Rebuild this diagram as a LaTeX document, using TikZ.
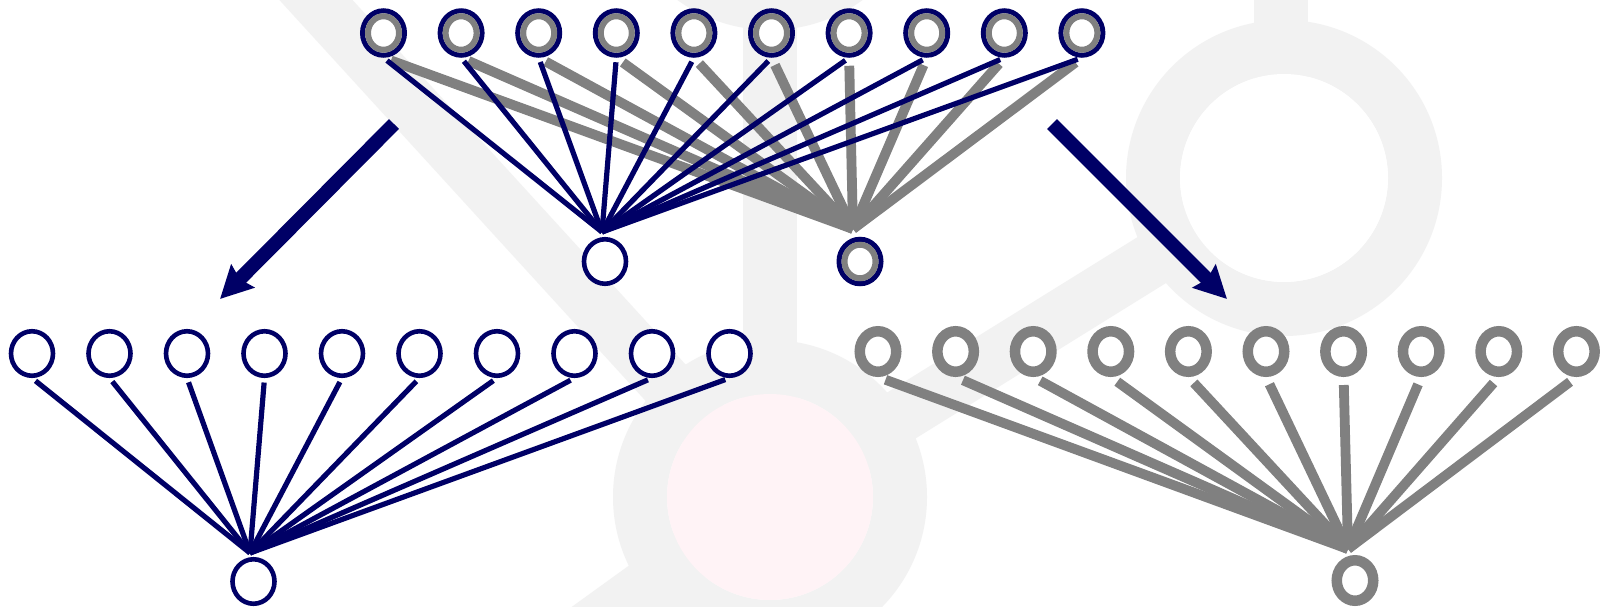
\documentclass[tikz,border=0pt]{standalone}
\usetikzlibrary{shapes.geometric,arrows.meta}
\definecolor{navyc}{RGB}{0,0,102}
\definecolor{grayc}{RGB}{128,128,128}
\definecolor{bgc}{RGB}{242,242,242}
\definecolor{pinkc}{RGB}{255,243,246}
\begin{document}
\begin{tikzpicture}[x=1pt,y=-1pt,
  bgline/.style={draw=bgc,line width=54pt},
  navynode/.style={ellipse,draw=navyc,fill=white,line width=4.6pt,minimum width=42pt,minimum height=44.5pt,inner sep=0pt},
  dualnode/.style={navynode,line width=5pt},
  graynode/.style={ellipse,draw=grayc,fill=white,line width=10.5pt,minimum width=36.5pt,minimum height=40.5pt,inner sep=0pt},
  innerring/.style={draw=grayc,line width=6pt},
  navyedge/.style={draw=navyc,line width=5.2pt,shorten <=4.5pt},
  grayedge/.style={draw=grayc,line width=9.8pt,shorten <=8pt},
  bigarrow/.style={draw=navyc,line width=14pt,-{Stealth[length=32pt,width=32pt,inset=4pt]}}
]
\useasboundingbox (0,0) rectangle (1603,606);
\clip (0,0) rectangle (1603,606);
\fill[white] (0,0) rectangle (1603,606);
% background watermark
\draw[bgline] (770,497) -- (231,-93);
\draw[bgline] (770,497) -- (770,-128);
\draw[bgline] (770,497) -- (446,731);
\draw[bgline] (770,497) -- (1284,178);
\draw[bgline] (1281,178) -- (1281,-100);
\draw[bgline] (770,-128) circle [radius=131pt];
\draw[bgline] (770,497) circle [radius=130pt];
\draw[bgline] (1284,178) circle [radius=131pt];
\fill[white] (770,-128) circle [radius=104pt];
\fill[white] (1284,178) circle [radius=104pt];
\fill[pinkc] (770,497) circle [radius=103pt];
% top network
\foreach \i in {0,...,9} \node[dualnode] (t\i) at ({383.5+77.6*\i},33) {};
\node[navynode] (ta) at (605,261.5) {};
\node[dualnode] (tb) at (860,261.5) {};
\coordinate (ca) at (602,232);
\coordinate (cb) at (853,229);
\foreach \i in {0,...,9} \draw[innerring] (t\i.center) ellipse [x radius=15.5pt, y radius=16.75pt];
\draw[innerring] (tb.center) ellipse [x radius=15.5pt, y radius=16.75pt];
\foreach \i in {0,...,9} \draw[grayedge] (t\i.south) -- (cb);
\foreach \i in {0,...,9} \draw[navyedge] (t\i.south) -- (ca);
% bottom left network
\foreach \j in {0,...,9} \node[navynode] (l\j) at ({32+77.5*\j},353.5) {};
\node[navynode] (lt) at (253.5,581.5) {};
\coordinate (cl) at (250,553);
\foreach \j in {0,...,9} \draw[navyedge] (l\j.south) -- (cl);
% bottom right network
\foreach \k in {0,...,9} \node[graynode] (r\k) at ({878+77.6*\k},351.5) {};
\node[graynode] (rt) at (1355,580.5) {};
\coordinate (cr) at (1348,549);
\foreach \k in {0,...,9} \draw[grayedge] (r\k.south) -- (cr);
% big arrows
\coordinate (la0) at (394,124);
\coordinate (la1) at (220,299);
\coordinate (ra0) at (1052,124);
\coordinate (ra1) at (1227,299);
\draw[bigarrow] (la0) -- (la1);
\draw[bigarrow] (ra0) -- (ra1);
\end{tikzpicture}
\end{document}
